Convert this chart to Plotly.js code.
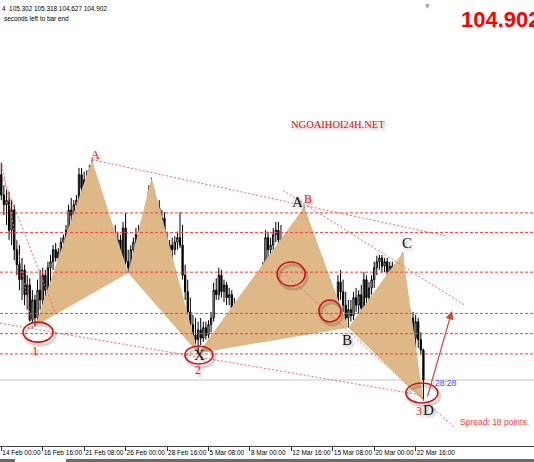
<!DOCTYPE html>
<html>
<head>
<meta charset="utf-8">
<script src="https://cdn.plot.ly/plotly-3.0.1.min.js"></script>
<style>
  html, body { margin: 0; padding: 0; background: #fff; }
  #chart { width: 534px; height: 462px; }
</style>
</head>
<body>
<div id="chart"></div>
<script>
// USDJPY, H4 — 14 Feb to 23 Mar, one entry per 4-hour bar
const tickBars = [0, 16, 32, 48, 64, 80, 96, 112, 128, 144, 160];
const tickLabels = ["14 Feb 00:00", "16 Feb 16:00", "21 Feb 08:00", "26 Feb 00:00", "28 Feb 16:00",
  "5 Mar 08:00", "8 Mar 00:00", "12 Mar 16:00", "15 Mar 08:00", "20 Mar 00:00", "22 Mar 16:00"];

const open = [
  107.64,107.37,107.24,107.30,106.90,107.17,106.64,106.44,106.24,106.37,
  106.04,106.17,105.70,105.97,105.73,106.10,105.97,106.30,106.10,106.40,
  106.48,106.64,106.53,106.61,106.74,106.80,106.90,107.17,107.10,107.24,
  107.30,107.64,107.46,107.57,107.44,107.70,107.54,107.24,107.37,107.04,
  106.84,106.66,106.77,106.61,106.84,106.64,106.77,106.53,106.93,106.48,
  106.40,106.64,106.74,106.84,106.80,106.93,107.01,107.17,107.41,107.33,
  107.10,107.20,107.01,107.06,106.77,106.61,106.70,106.64,106.74,106.80,
  106.70,106.30,106.08,105.81,105.64,105.50,105.44,105.57,105.46,105.60,
  105.50,105.64,105.73,106.10,106.04,106.30,106.08,106.17,106.00,106.04,
  105.86,105.60,105.77,105.64,105.90,105.97,105.90,106.10,106.00,106.17,
  106.10,106.24,106.37,106.80,106.64,106.70,106.84,106.90,106.77,106.61,
  106.53,106.40,106.48,106.34,106.48,106.37,106.77,107.01,106.80,106.57,
  106.40,106.53,106.30,106.44,106.37,106.17,106.04,105.84,105.90,105.81,
  105.89,106.21,106.08,105.90,105.73,105.84,105.76,106.00,105.90,106.04,
  105.86,106.24,106.00,106.13,106.24,106.40,106.48,106.53,106.42,106.48,
  106.34,106.42,106.26,106.37,106.10,106.21,105.97,105.77,105.57,105.73,
  105.46,105.68,105.44,105.302
];
const high = [
  107.80,107.50,107.44,107.41,107.30,107.24,106.77,106.70,106.53,106.44,
  106.30,106.26,106.10,106.04,106.24,106.37,106.40,106.37,106.48,106.57,
  106.70,106.73,106.66,106.80,106.84,106.97,107.24,107.33,107.30,107.37,
  107.73,107.73,107.68,107.70,107.77,107.84,107.68,107.50,107.46,107.24,
  107.01,106.88,106.90,106.93,106.97,106.88,106.84,107.01,107.13,106.64,
  106.70,106.80,106.93,106.97,107.01,107.10,107.24,107.50,107.60,107.44,
  107.30,107.30,107.17,107.14,106.88,106.77,106.80,106.82,106.88,107.14,
  106.97,106.44,106.24,106.00,105.77,105.73,105.68,105.73,105.68,105.68,
  105.70,105.81,106.20,106.26,106.40,106.37,106.24,106.21,106.13,106.10,
  106.00,105.86,105.84,105.97,106.04,106.10,106.17,106.21,106.24,106.26,
  106.30,106.48,106.90,106.88,106.80,106.93,107.01,107.01,106.97,106.70,
  106.64,106.57,106.57,106.53,106.64,106.88,107.10,107.21,106.97,106.74,
  106.64,106.61,106.53,106.57,106.50,106.30,106.13,106.00,105.97,105.94,
  106.30,106.37,106.24,106.08,105.97,105.97,106.08,106.13,106.10,106.17,
  106.34,106.30,106.21,106.30,106.48,106.56,106.57,106.57,106.53,106.53,
  106.48,106.48,106.44,106.44,106.30,106.60,106.10,105.97,105.84,105.81,
  105.77,105.73,105.54,105.318
];
const low = [
  107.30,107.10,106.97,106.77,106.70,106.50,106.30,106.10,105.97,105.90,
  105.84,105.68,105.66,105.62,105.68,105.84,105.90,105.97,106.04,106.17,
  106.37,106.48,106.44,106.53,106.64,106.70,106.77,107.01,106.97,107.10,
  107.24,107.37,107.30,107.33,107.37,107.44,107.14,107.10,106.93,106.77,
  106.57,106.48,106.53,106.56,106.50,106.48,106.44,106.40,106.44,106.33,
  106.34,106.53,106.64,106.70,106.72,106.84,106.90,107.10,107.24,107.01,
  106.97,106.93,106.88,106.70,106.53,106.48,106.53,106.57,106.64,106.66,
  106.24,105.97,105.73,105.54,105.37,105.33,105.26,105.37,105.41,105.44,
  105.46,105.54,105.68,105.97,105.97,106.00,105.94,105.90,105.90,105.81,
  105.50,105.54,105.50,105.57,105.77,105.84,105.86,105.94,105.97,106.04,
  106.08,106.17,106.30,106.53,106.48,106.61,106.74,106.70,106.53,106.44,
  106.30,106.26,106.24,106.26,106.21,106.30,106.66,106.70,106.48,106.30,
  106.26,106.21,106.21,106.26,106.08,105.94,105.77,105.76,105.73,105.76,
  105.84,105.97,105.81,105.64,105.60,105.68,105.70,105.81,105.70,105.81,
  105.81,105.90,105.94,106.04,106.13,106.30,106.37,106.34,106.34,106.26,
  106.26,106.21,106.17,106.04,105.97,105.90,105.68,105.46,105.44,105.37,
  105.30,105.33,105.24,104.627
];
const close = [
  107.37,107.24,107.30,106.90,107.17,106.64,106.44,106.24,106.37,106.04,
  106.17,105.70,105.97,105.73,106.10,105.97,106.30,106.10,106.40,106.48,
  106.64,106.53,106.61,106.74,106.80,106.90,107.17,107.10,107.24,107.30,
  107.64,107.46,107.57,107.44,107.70,107.54,107.24,107.37,107.04,106.84,
  106.66,106.77,106.61,106.84,106.64,106.77,106.53,106.93,106.48,106.40,
  106.64,106.74,106.84,106.80,106.93,107.01,107.17,107.41,107.33,107.10,
  107.20,107.01,107.06,106.77,106.61,106.70,106.64,106.74,106.80,106.70,
  106.30,106.08,105.81,105.64,105.50,105.44,105.57,105.46,105.60,105.50,
  105.64,105.73,106.10,106.04,106.30,106.08,106.17,106.00,106.04,105.86,
  105.60,105.77,105.64,105.90,105.97,105.90,106.10,106.00,106.17,106.10,
  106.24,106.37,106.80,106.64,106.70,106.84,106.90,106.77,106.61,106.53,
  106.40,106.48,106.34,106.48,106.37,106.77,107.01,106.80,106.57,106.40,
  106.53,106.30,106.44,106.37,106.17,106.04,105.84,105.90,105.81,105.89,
  106.21,106.08,105.90,105.73,105.84,105.76,106.00,105.90,106.04,105.86,
  106.24,106.00,106.13,106.24,106.40,106.48,106.53,106.42,106.48,106.34,
  106.42,106.26,106.37,106.10,106.21,105.97,105.77,105.57,105.73,105.46,
  105.68,105.44,105.302,104.902
];

// Harmonic pattern pivots (bar index + which extreme of that bar)
const pattern1Bars = [13, 35, 49, 58, 76];
const pattern2Bars = [76, 117, 134, 155, 163];
const pivotSides = ["low", "high", "low", "high", "low"];

// Horizontal retracement levels (price)
const levelPrices = [107.13, 106.87, 106.34, 105.79, 105.52, 105.25];

// Trend lines: [bar0, price0, bar1, price1]
const trendLines = [
  [35, 107.84, 172.1, 106.82],
  [108.8, 107.43, 179.0, 105.90],
  [108.8, 106.34, 175.2, 104.26],
  [-0.5, 105.66, 162.4, 104.70],
  [0.3, 107.77, 12.2, 105.57],
  [0.3, 107.63, 20.7, 105.81]
];

// Ellipse marks: [bar, price]
const ringMarks = [[14.2, 105.54], [76.3, 105.235], [111.9, 106.315], [126.9, 105.822], [162.4, 104.729]];
const ringSizes = [[15, 10], [14, 9], [14, 12], [11, 11], [16, 10]];

// Point labels: [text, bar, price, kind]
const pointLabels = [
  ["A", 36.2, 107.90, "red"], ["A", 114.2, 107.275, "black"], ["B", 118.4, 107.315, "red"],
  ["B", 133.5, 105.435, "black"], ["C", 156.6, 106.729, "black"], ["D", 165.1, 104.502, "black"],
  ["X", 76.7, 105.235, "black"], ["1", 13.0, 105.289, "red"], ["2", 76.0, 105.035, "red"],
  ["3", 161.3, 104.489, "red"]
];

// Projection arrow from D: [barFrom, priceFrom, barTo, priceTo]
const projection = [164.4, 104.662, 174.0, 105.822];

const n = close.length;
const bars = Array.from({ length: n }, (_, i) => i);
const last = n - 1;

function pivotPoints(idx) {
  return {
    x: idx.map(b => b),
    y: idx.map((b, k) => pivotSides[k] === "low" ? low[b] : high[b])
  };
}

function triangle(p, a, b, c) {
  return {
    type: "scatter", mode: "lines",
    x: [p.x[a], p.x[b], p.x[c], p.x[a]],
    y: [p.y[a], p.y[b], p.y[c], p.y[a]],
    fill: "toself", fillcolor: "#deb887",
    line: { width: 0, color: "#deb887" },
    hoverinfo: "skip", showlegend: false
  };
}

const p1 = pivotPoints(pattern1Bars);
const p2 = pivotPoints(pattern2Bars);

const traces = [
  triangle(p1, 0, 1, 2), triangle(p1, 2, 3, 4),
  triangle(p2, 0, 1, 2), triangle(p2, 2, 3, 4),
  {
    type: "candlestick", x: bars, open, high, low, close,
    increasing: { line: { color: "#000", width: 1 }, fillcolor: "#ffffff" },
    decreasing: { line: { color: "#000", width: 1 }, fillcolor: "#000000" },
    whiskerwidth: 0, hoverinfo: "skip", showlegend: false
  }
];

const shapes = [];
// bid line at the last close
shapes.push({ type: "line", xref: "paper", x0: 0, x1: 1, yref: "y", y0: close[last], y1: close[last],
  line: { color: "#c6c6c6", width: 1 }, layer: "below" });
levelPrices.forEach(p => shapes.push({
  type: "line", xref: "paper", x0: 0, x1: 1, yref: "y", y0: p, y1: p,
  line: { color: "#ff3a3a", width: 1, dash: "3px,2px" }
}));
trendLines.forEach(t => shapes.push({
  type: "line", xref: "x", yref: "y", x0: t[0], y0: t[1], x1: t[2], y1: t[3],
  line: { color: "#f26a6a", width: 1, dash: "2px,2px" }
}));
ringMarks.forEach((m, k) => {
  const [rx, ry] = ringSizes[k];
  shapes.push({ type: "circle", xref: "x", yref: "y", xsizemode: "pixel", ysizemode: "pixel",
    xanchor: m[0], yanchor: m[1], x0: -rx + 2, x1: rx + 2, y0: -ry - 3, y1: ry - 3,
    line: { color: "rgba(0,0,0,0.16)", width: 3 } });
  shapes.push({ type: "circle", xref: "x", yref: "y", xsizemode: "pixel", ysizemode: "pixel",
    xanchor: m[0], yanchor: m[1], x0: -rx, x1: rx, y0: -ry, y1: ry,
    line: { color: "#cc1414", width: 1.6 } });
});
// bottom tab strip
shapes.push({ type: "rect", xref: "paper", yref: "paper", x0: 0, x1: 15 / 534, y0: -16 / 446, y1: -13 / 446,
  fillcolor: "#6a6a6a", line: { width: 0 } });
shapes.push({ type: "rect", xref: "paper", yref: "paper", x0: 66 / 534, x1: 1, y0: -16 / 446, y1: -13 / 446,
  fillcolor: "#6a6a6a", line: { width: 0 } });

const shadow = "2px 2px 3px rgba(0,0,0,0.35)";
const annotations = pointLabels.map(([t, b, p, kind]) => ({
  x: b, y: p, xref: "x", yref: "y", text: t, showarrow: false,
  xanchor: "center", yanchor: "middle",
  font: kind === "red"
    ? { family: "Liberation Serif", size: 12, color: "#d42020", shadow }
    : { family: "Liberation Serif", size: 15, color: "#111111", shadow }
}));

annotations.push({
  x: projection[2], y: projection[3], ax: projection[0], ay: projection[1],
  xref: "x", yref: "y", axref: "x", ayref: "y", text: "", showarrow: true,
  arrowhead: 2, arrowsize: 1.4, arrowwidth: 1.2, arrowcolor: "#d0473a", standoff: 0, startstandoff: 0
});
annotations.push({ x: 130.0, y: 108.315, xref: "x", yref: "y", text: "NGOAIHOI24H.NET", showarrow: false,
  font: { family: "Liberation Serif", size: 10.5, color: "#cc2222", shadow } });
annotations.push({ x: 176.3, y: 104.342, xref: "x", yref: "y", text: "Spread: 18 points.", showarrow: false,
  xanchor: "left", font: { family: "Liberation Sans", size: 8.5, color: "#ff3b3b" } });
annotations.push({ x: 166.7, y: 104.862, xref: "x", yref: "y", text: "28:28", showarrow: false,
  xanchor: "left", font: { family: "Liberation Sans", size: 8.5, color: "#4a4aff" } });
annotations.push({ x: 164.7, y: 1, xref: "x", yref: "paper", text: "▼", showarrow: false,
  yanchor: "top", font: { family: "DejaVu Sans", size: 6, color: "#a0a0a0" } });
annotations.push({ x: 459 / 534, y: 1 - 19 / 446, xref: "paper", yref: "paper",
  text: "<b>" + close[last].toFixed(3) + "</b>", showarrow: false, xanchor: "left", yanchor: "middle",
  font: { family: "Liberation Sans", size: 22, color: "#ff0000" } });
annotations.push({ x: 0, y: 1 - 8 / 446, xref: "paper", yref: "paper",
  text: "4  " + [open[last], high[last], low[last], close[last]].map(v => v.toFixed(3)).join(" "),
  showarrow: false, xanchor: "left", yanchor: "middle",
  font: { family: "Liberation Sans", size: 6.4, color: "#000" } });
annotations.push({ x: 0.004, y: 1 - 18 / 446, xref: "paper", yref: "paper",
  text: "seconds left to bar end", showarrow: false, xanchor: "left", yanchor: "middle",
  font: { family: "Liberation Sans", size: 6.4, color: "#000" } });

const layout = {
  width: 534, height: 462,
  margin: { l: 0, r: 0, t: 0, b: 16, pad: 0 },
  paper_bgcolor: "#ffffff", plot_bgcolor: "#ffffff",
  showlegend: false,
  xaxis: {
    range: [-0.5, 205.7], tickvals: tickBars, ticktext: tickLabels,
    ticks: "outside", ticklen: 4, tickwidth: 1, tickcolor: "#333",
    tickangle: 0, ticklabelposition: "outside right", ticklabelstandoff: 0,
    tickfont: { family: "Liberation Sans", size: 6.5, color: "#000" },
    showline: true, linecolor: "#444", linewidth: 1, mirror: true,
    showgrid: false, zeroline: false, rangeslider: { visible: false }, fixedrange: true
  },
  yaxis: {
    range: [104.022, 109.969], showticklabels: false, showgrid: false,
    zeroline: false, showline: false, ticks: "", fixedrange: true
  },
  shapes, annotations
};

Plotly.newPlot("chart", traces, layout, { displayModeBar: false, staticPlot: true });
</script>
</body>
</html>
